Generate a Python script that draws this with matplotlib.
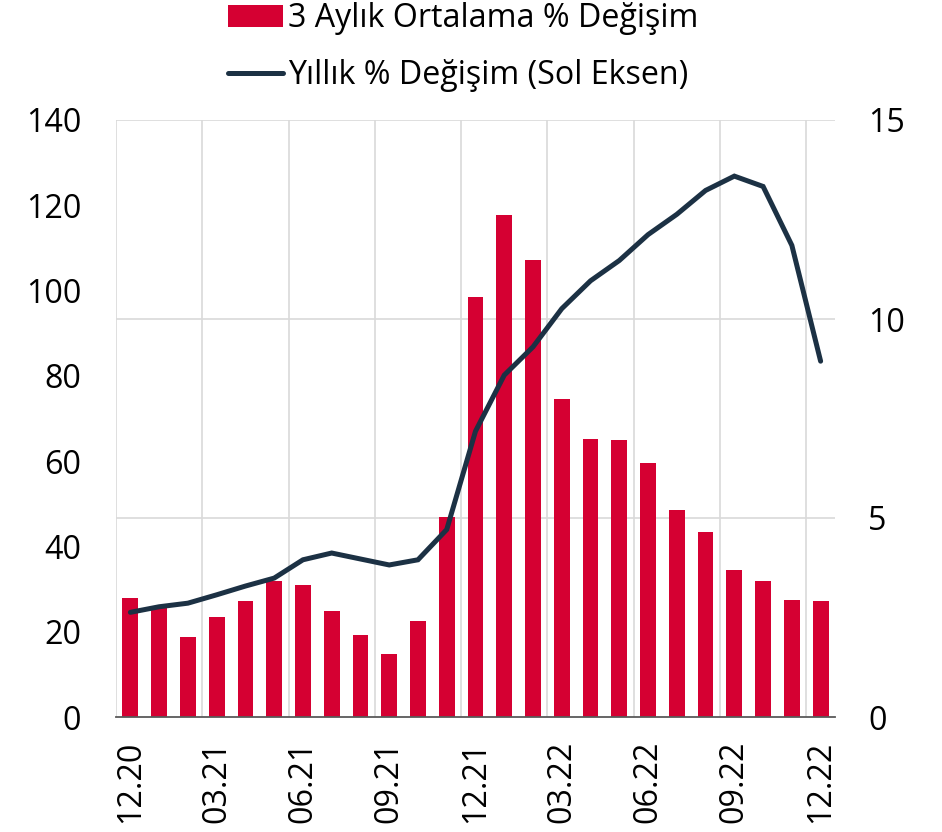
import matplotlib
matplotlib.use("Agg")
import matplotlib.pyplot as plt
import numpy as np

plt.rcParams['font.family'] = ['Open Sans', 'DejaVu Sans']

months = ["12.20", "01.21", "02.21", "03.21", "04.21", "05.21", "06.21", "07.21",
          "08.21", "09.21", "10.21", "11.21", "12.21", "01.22", "02.22", "03.22",
          "04.22", "05.22", "06.22", "07.22", "08.22", "09.22", "10.22", "11.22", "12.22"]
bar_vals = [27.9, 25.8, 18.7, 23.5, 27.2, 32.0, 31.0, 24.8, 19.3, 14.8, 22.6, 46.9,
            98.4, 117.8, 107.2, 74.5, 65.1, 64.9, 59.5, 48.6, 43.3, 34.4, 31.9, 27.4, 27.1]
line_vals = [2.63, 2.77, 2.86, 3.07, 3.29, 3.49, 3.95, 4.12, 3.97, 3.82, 3.95, 4.71,
             7.18, 8.59, 9.30, 10.26, 10.96, 11.47, 12.12, 12.63, 13.23, 13.59, 13.33, 11.85, 8.94]
left_ticks = [0, 20, 40, 60, 80, 100, 120, 140]
right_ticks = [0, 5, 10, 15]
bar_label = "3 Aylık Ortalama % Değişim"
line_label = "Yıllık % Değişim (Sol Eksen)"

BAR_C = "#D50032"
LINE_C = "#1C3144"
GRID_C = "#D9D9D9"
FS = 23.2

fig = plt.figure(figsize=(9.42, 8.32), dpi=100)
ax = fig.add_axes([116/942, 1-717/832, (835-116)/942, (717-120)/832])
ax2 = ax.twinx()

x = np.arange(len(months))

for gx in np.arange(2.5, len(months), 3):
    ax.axvline(gx, color=GRID_C, lw=1.2, zorder=0)
ax.axvline(-0.5, color=GRID_C, lw=1.2, zorder=0)
for gy in right_ticks[1:]:
    ax.axhline(gy * 140 / 15, color=GRID_C, lw=1.2, zorder=0)

bars = ax.bar(x, bar_vals, width=0.55, color=BAR_C, zorder=2, label=bar_label)
line, = ax2.plot(x, line_vals, color=LINE_C, lw=3.6, solid_capstyle='round',
                 solid_joinstyle='miter', zorder=3, label=line_label)

ax.set_xlim(-0.5, len(months) - 0.5)
ax.set_ylim(0, 140)
ax2.set_ylim(0, 15)
ax.set_yticks(left_ticks)
ax2.set_yticks(right_ticks)
ax.set_xticks(x[::3])
ax.set_xticklabels(months[::3], rotation=90, fontsize=FS)
ax.tick_params(axis='x', length=0, pad=17)
ax.tick_params(axis='y', length=0, pad=25, labelsize=FS)
ax2.tick_params(axis='y', length=0, pad=24, labelsize=FS)

for a in (ax, ax2):
    for s in ('top', 'right', 'left', 'bottom'):
        a.spines[s].set_visible(False)
ax.spines['bottom'].set_visible(True)
ax.spines['bottom'].set_color('#595959')
ax.spines['bottom'].set_linewidth(1.3)
ax.spines['bottom'].set_zorder(4)

leg = fig.legend([bars, line], [bar_label, line_label], loc='upper left',
                 bbox_to_anchor=(228/942, 1 - 2/832), frameon=False, fontsize=FS,
                 handlelength=1.71, handleheight=0.69, handletextpad=0.15,
                 labelspacing=0.74, borderaxespad=0, borderpad=0)

fig.savefig("out.png", dpi=100)
